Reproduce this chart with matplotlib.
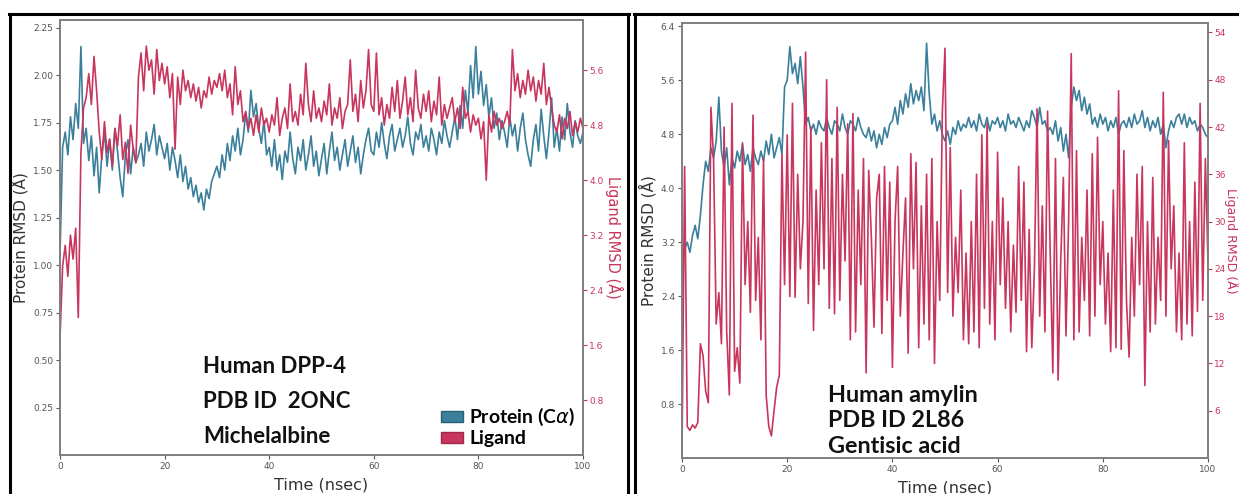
import numpy as np
import matplotlib.pyplot as plt
from matplotlib.patches import Patch
from matplotlib.lines import Line2D

# RMSD traces, one value every 0.5 ns (0..100 ns)
time_ns = np.linspace(0, 100, 201)

# left panel: DPP-4 / Michelalbine
dpp4_protein = [
    1.05, 1.62, 1.70, 1.58, 1.78, 1.66, 1.85, 1.72, 2.15, 1.64,
    1.72, 1.55, 1.68, 1.47, 1.62, 1.38, 1.58, 1.70, 1.52, 1.66,
    1.50, 1.72, 1.60, 1.46, 1.36, 1.58, 1.66, 1.48, 1.62, 1.54,
    1.58, 1.64, 1.52, 1.70, 1.60, 1.66, 1.74, 1.58, 1.68, 1.62,
    1.56, 1.64, 1.50, 1.62, 1.55, 1.46, 1.58, 1.44, 1.52, 1.40,
    1.46, 1.36, 1.42, 1.33, 1.38, 1.29, 1.40, 1.35, 1.44, 1.48,
    1.52, 1.46, 1.58, 1.50, 1.64, 1.55, 1.68, 1.60, 1.72, 1.58,
    1.66, 1.80, 1.70, 1.92, 1.78, 1.85, 1.72, 1.64, 1.76, 1.58,
    1.62, 1.52, 1.66, 1.50, 1.58, 1.45, 1.60, 1.54, 1.70, 1.56,
    1.48, 1.62, 1.55, 1.66, 1.50, 1.58, 1.68, 1.52, 1.60, 1.47,
    1.56, 1.64, 1.48, 1.60, 1.70, 1.55, 1.62, 1.50, 1.58, 1.66,
    1.52, 1.60, 1.68, 1.54, 1.62, 1.48, 1.58, 1.66, 1.72, 1.60,
    1.58, 1.70, 1.62, 1.75, 1.64, 1.56, 1.68, 1.74, 1.60, 1.66,
    1.72, 1.62, 1.68, 1.78, 1.64, 1.58, 1.70, 1.66, 1.74, 1.62,
    1.68, 1.60, 1.72, 1.66, 1.58, 1.70, 1.64, 1.76, 1.68, 1.62,
    1.70, 1.78, 1.66, 1.84, 1.72, 1.92, 1.80, 2.05, 1.88, 2.15,
    1.90, 2.02, 1.84, 1.95, 1.78, 1.88, 1.72, 1.80, 1.66, 1.76,
    1.70, 1.62, 1.78, 1.68, 1.74, 1.60, 1.72, 1.80, 1.66, 1.58,
    1.52, 1.66, 1.74, 1.60, 1.82, 1.68, 1.56, 1.70, 1.88, 1.62,
    1.72, 1.60, 1.78, 1.66, 1.85, 1.70, 1.62, 1.76, 1.68, 1.64,
    1.70,
]
dpp4_ligand = [
    1.70, 2.75, 3.05, 2.60, 3.20, 2.85, 3.30, 2.00, 4.40, 5.05,
    5.20, 5.55, 5.10, 5.80, 5.30, 4.70, 4.30, 4.85, 4.40, 4.60,
    4.20, 4.75, 4.50, 4.95, 4.30, 4.55, 4.10, 4.80, 4.45, 4.25,
    5.50, 5.85, 5.30, 5.95, 5.60, 5.75, 5.25, 5.90, 5.45, 5.70,
    5.40, 5.65, 5.20, 5.55, 4.45, 5.50, 5.10, 5.60, 5.30, 5.45,
    5.20, 5.40, 5.15, 5.35, 5.05, 5.30, 5.20, 5.50, 5.25, 5.45,
    5.35, 5.55, 5.30, 5.60, 5.20, 5.40, 4.95, 5.65, 5.10, 5.30,
    4.85, 5.00, 4.75, 4.90, 4.65, 4.95, 4.70, 5.05, 4.80, 4.90,
    4.70, 4.95, 4.80, 5.20, 4.65, 4.90, 5.05, 4.75, 5.40, 4.85,
    5.00, 4.80, 5.25, 4.95, 5.70, 5.10, 4.85, 5.30, 4.90, 5.05,
    4.85, 5.15, 4.95, 5.40, 4.80, 5.05, 4.90, 5.20, 4.75, 5.00,
    5.10, 5.75, 5.00, 5.25, 4.85, 5.45, 5.05, 5.30, 5.90, 5.10,
    5.00, 5.85, 4.95, 5.20, 4.80, 5.10, 4.90, 5.35, 5.00, 5.45,
    4.90, 5.15, 5.50, 4.95, 5.20, 4.85, 5.60, 5.05, 4.90, 5.25,
    5.00, 5.30, 4.85, 5.15, 4.95, 5.50, 4.80, 5.10, 4.90, 5.05,
    5.20, 4.85, 5.05, 4.75, 5.35, 4.90, 5.00, 4.70, 4.95, 4.80,
    4.90, 4.60, 4.85, 4.00, 4.95, 4.70, 5.00, 4.80, 4.90, 4.75,
    4.85, 5.00, 4.80, 5.90, 5.30, 5.55, 5.20, 5.45, 5.25, 5.60,
    5.30, 5.50, 5.15, 5.45, 5.25, 5.70, 5.10, 5.35, 5.05, 4.80,
    4.70, 4.95, 4.60, 4.90, 4.75, 5.00, 4.65, 4.85, 4.70, 4.90,
    4.75,
]

# right panel: amylin / Gentisic acid
amylin_protein = [
    2.95, 3.10, 3.20, 3.05, 3.30, 3.45, 3.25, 3.60, 4.05, 4.40,
    4.25, 4.60, 4.45, 4.70, 5.35, 4.55, 4.30, 4.60, 4.05, 4.45,
    4.30, 4.55, 4.40, 4.65, 4.35, 4.50, 4.25, 4.60, 4.45, 4.35,
    4.55, 4.40, 4.70, 4.50, 4.80, 4.45, 4.60, 4.75, 4.50, 5.50,
    5.60, 6.10, 5.70, 5.85, 5.55, 5.95, 5.50, 4.95, 5.05, 4.85,
    4.95, 4.80, 5.00, 4.90, 4.85, 5.05, 4.90, 4.80, 5.00, 4.95,
    4.85, 5.10, 4.90, 4.80, 5.00, 4.95, 4.85, 5.05, 4.90, 4.80,
    4.75, 4.90, 4.70, 4.85, 4.60, 4.80, 4.65, 4.90, 4.75, 4.95,
    5.00, 5.20, 4.95, 5.30, 5.10, 5.40, 5.20, 5.55, 5.25, 5.45,
    5.30, 5.50, 5.15, 6.15, 5.40, 4.95, 5.10, 4.85, 5.00, 4.80,
    4.70, 4.85, 4.65, 4.90, 4.80, 5.00, 4.85, 4.95, 4.90, 5.05,
    4.90, 5.00, 4.85, 5.10, 4.95, 4.90, 5.05, 4.85, 5.00, 4.95,
    5.05, 4.90, 5.00, 4.85, 5.10, 4.95, 5.00, 4.90, 5.05, 4.95,
    4.85, 5.00, 4.90, 5.15, 5.05, 4.90, 5.20, 4.95, 5.00, 4.85,
    4.90, 4.80, 5.00, 4.70, 4.90, 4.55, 4.80, 4.45, 5.20, 5.50,
    5.30, 5.45, 5.15, 5.35, 5.10, 5.25, 4.95, 5.05, 4.90, 5.10,
    4.95, 5.05, 4.85, 5.00, 4.90, 5.05, 4.80, 4.95, 5.00, 4.90,
    5.05, 4.90, 5.10, 4.95, 5.00, 5.15, 4.90, 5.05, 4.85, 5.00,
    4.90, 5.05, 4.80, 4.95, 4.60, 4.85, 5.00, 4.90, 5.05, 5.10,
    4.95, 5.10, 4.90, 5.05, 4.95, 5.00, 4.85, 4.95, 4.90, 4.80,
    4.75,
]
amylin_ligand = [
    0.5, 37.0, 4.0, 3.5, 4.2, 3.8, 4.5, 14.5, 13.0, 8.5,
    7.0, 44.5, 38.0, 17.0, 21.0, 14.5, 42.0, 16.0, 8.0, 45.0,
    11.0, 14.0, 9.5, 40.0, 22.0, 30.0, 18.5, 43.5, 20.0, 28.0,
    15.0, 38.0, 8.0, 4.0, 2.8, 6.0, 9.0, 10.5, 38.5, 22.0,
    41.0, 20.5, 45.0, 20.4, 36.0, 24.0, 30.0, 51.5, 19.6, 42.0,
    16.2, 34.0, 22.0, 40.0, 24.0, 48.0, 19.0, 38.0, 18.3, 44.5,
    20.0, 36.0, 25.0, 42.4, 15.0, 43.7, 16.0, 34.0, 22.0, 38.0,
    10.8, 36.5, 28.0, 16.6, 33.0, 36.0, 15.8, 37.0, 20.0, 35.0,
    11.5, 30.0, 37.0, 18.0, 26.0, 33.0, 13.3, 38.6, 24.0, 37.5,
    14.0, 32.0, 17.0, 36.0, 15.0, 38.0, 12.0, 30.0, 20.0, 44.0,
    52.0, 21.0, 39.4, 18.0, 28.0, 21.0, 34.0, 15.0, 26.0, 14.5,
    30.0, 16.0, 36.0, 14.0, 41.0, 19.0, 42.5, 17.0, 30.0, 15.0,
    38.8, 22.0, 33.0, 19.0, 30.0, 16.0, 27.0, 18.5, 37.0, 20.0,
    35.0, 13.5, 29.0, 14.0, 24.0, 44.3, 18.0, 32.0, 16.0, 44.0,
    26.0, 10.8, 38.0, 9.9, 25.0, 35.6, 15.5, 30.0, 51.3, 15.0,
    39.0, 16.0, 28.0, 20.0, 34.0, 15.5, 38.6, 18.0, 40.7, 22.0,
    30.0, 17.0, 26.0, 13.5, 34.0, 14.0, 46.6, 13.8, 39.0, 20.0,
    12.8, 28.0, 18.0, 36.0, 22.0, 37.0, 9.2, 30.0, 16.0, 35.6,
    17.0, 28.0, 20.0, 46.4, 18.0, 40.3, 24.0, 32.0, 16.0, 26.0,
    15.0, 40.0, 17.0, 30.0, 15.5, 35.0, 18.6, 45.0, 20.0, 38.0,
    24.7,
]

dpp4_text = ["Human DPP-4", "PDB ID  2ONC", "Michelalbine"]
amylin_text = ["Human amylin", "PDB ID 2L86", "Gentisic acid"]
legend_labels = ["Protein (C$\\alpha$)", "Ligand"]

BLUE = "#3a7f9b"
RED = "#c8365e"
SPINE = "#808080"
BOLD_FONT = ["Lato", "DejaVu Sans"]

W, H = 1239, 494
fig = plt.figure(figsize=(W / 100, H / 100), dpi=100)
renderer = fig.canvas.get_renderer()


def px_rect(x0, y_top, x1, y_bot):
    # pixel box -> figure fraction [left, bottom, width, height]
    return [x0 / W, 1 - y_bot / H, (x1 - x0) / W, (y_bot - y_top) / H]


def draw_panel(rect, prot, lig, lim_l, ticks_l, fmt_l, lim_r, ticks_r, fmt_r,
               rlab_size, rlab_x):
    ax = fig.add_axes(rect)
    ax.plot(time_ns, prot, color=BLUE, lw=1.2)
    ax.set_xlim(0, 100)
    ax.set_ylim(*lim_l)
    ax.set_xticks([0, 20, 40, 60, 80, 100])
    ax.set_yticks(ticks_l)
    ax.set_yticklabels([fmt_l.format(v) for v in ticks_l])
    ax.tick_params(labelsize=6.5, colors="#555555", length=3, width=0.8, pad=2)
    ax.set_xlabel("Time (nsec)", fontsize=11.5, color="#333333", labelpad=5)
    ax.set_ylabel("Protein RMSD (Å)", fontsize=11, color="#333333", labelpad=3)

    ax2 = ax.twinx()
    ax2.plot(time_ns, lig, color=RED, lw=1.2)
    ax2.set_ylim(*lim_r)
    ax2.set_yticks(ticks_r)
    ax2.set_yticklabels([fmt_r.format(v) for v in ticks_r])
    ax2.tick_params(labelsize=6.5, colors=RED, length=3, width=0.8, pad=1.5)
    ax2.set_ylabel("Ligand RMSD (Å)", fontsize=rlab_size, color=RED,
                   rotation=270, va="center", ha="center")
    ax2.yaxis.set_label_coords(rlab_x, 0.5)
    for a in (ax, ax2):
        for s in a.spines.values():
            s.set_color(SPINE)
            s.set_linewidth(1.3)
    return ax, ax2


def text_block(ax, x, ys, lines, first_width_px):
    # size the block so its first line is as wide as in the reference
    probe = ax.text(0, 0, lines[0], fontsize=20, fontweight="bold", family=BOLD_FONT)
    size = 20 * first_width_px / probe.get_window_extent(renderer).width
    probe.remove()
    for txt, yy in zip(lines, ys):
        ax.text(x, yy, txt, transform=ax.transAxes, fontsize=size, fontweight="bold",
                family=BOLD_FONT, va="baseline", color="#111111")


ax_l, ax_l2 = draw_panel(px_rect(60, 20, 583, 455), dpp4_protein, dpp4_ligand,
                         (0, 2.29), [0.25 * i for i in range(1, 10)], "{:.2f}",
                         (0, 6.33), [0.8 * i for i in range(1, 8)], "{:.1f}",
                         10.5, (614 - 60) / 523)
ax_r, ax_r2 = draw_panel(px_rect(682, 23, 1208, 458), amylin_protein, amylin_ligand,
                         (0, 6.45), [0.8 * i for i in range(1, 9)], "{:.1f}",
                         (0, 55.2), [6 * i for i in range(1, 10)], "{:.0f}",
                         9, (1231.5 - 682) / 526)

text_block(ax_l2, 0.273, [0.189, 0.108, 0.028], dpp4_text, 143)
text_block(ax_r2, 0.278, [0.129, 0.071, 0.0115], amylin_text, 150)

probe = ax_l2.text(0, 0, legend_labels[0], fontsize=15, fontweight="bold", family=BOLD_FONT)
leg_size = 15 * 106 / probe.get_window_extent(renderer).width
probe.remove()
handles = [Patch(facecolor=BLUE, edgecolor="#2c5f75"), Patch(facecolor=RED, edgecolor="#9e2a4a")]
ax_l2.legend(handles, legend_labels, loc="lower right", bbox_to_anchor=(1.0, 0.0),
             frameon=False, handlelength=1.15, handleheight=0.45, handletextpad=0.3,
             labelspacing=0.1, borderpad=0.2, borderaxespad=0.2,
             prop={"family": BOLD_FONT, "weight": "bold", "size": leg_size})

# black frames around each panel (run off the bottom edge)
frame_lines = [
    ([10, 10], [H + 5, 14]), ([9, 629], [14, 14]), ([628, 628], [14, H + 5]),
    ([635, 635], [H + 5, 14]), ([634, W], [14, 14]),
]
for xs, ys in frame_lines:
    fig.add_artist(Line2D([x / W for x in xs], [1 - y / H for y in ys],
                          color="black", lw=2.2, transform=fig.transFigure))

fig.savefig("out.png", dpi=100)
